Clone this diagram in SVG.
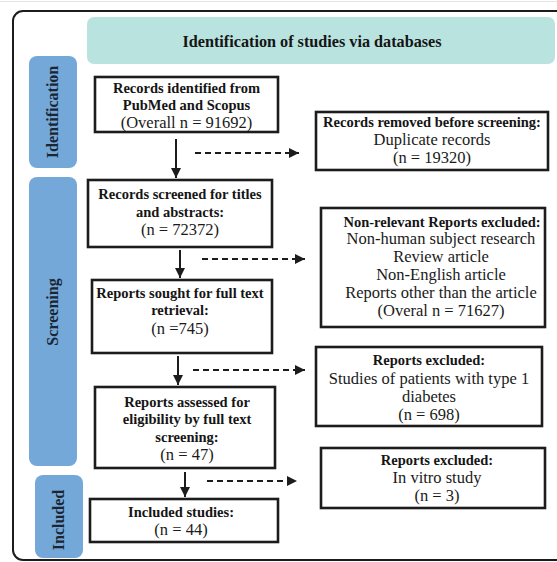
<svg xmlns="http://www.w3.org/2000/svg" width="557" height="562" viewBox="0 0 557 562">
<defs>
<style>
.box{fill:#fff;stroke:#1c1c1c;stroke-width:2.6}
.side{fill:#74a8d8}
.b{font-weight:bold;font-size:14.5px;fill:#151515;text-anchor:middle}
.h{font-weight:bold;font-size:16.2px;fill:#151515;text-anchor:middle}
.r{font-size:16.5px;fill:#1a1a1a;text-anchor:middle}
.sl{font-weight:bold;font-size:16px;fill:#1b2633;text-anchor:middle}
.solid{stroke:#1c1c1c;stroke-width:2;fill:none}
.dash{stroke:#1c1c1c;stroke-width:2;fill:none;stroke-dasharray:6 4}
</style>
<marker id="ah" viewBox="0 0 10 10" refX="10" refY="5" markerWidth="5" markerHeight="5" orient="auto" markerUnits="strokeWidth">
<path d="M0,0 L10,5 L0,10 z" fill="#1c1c1c"/>
</marker>
</defs>
<rect width="557" height="562" fill="#fff"/>
<line x1="0" y1="1.5" x2="557" y2="1.5" stroke="#e4e4e4" stroke-width="1"/>
<rect x="13" y="11" width="570" height="549" rx="10" fill="none" stroke="#1c1c1c" stroke-width="2"/>
<g font-family="Liberation Serif, Times New Roman, serif">
<g id="header">
<rect x="87" y="17" width="468" height="47" rx="7" fill="#b9e3df"/>
<text class="h" x="312" y="47">Identification of studies via databases</text>
</g>

<g id="side-identification">
<rect class="side" x="29" y="56" width="48" height="112" rx="8"/>
<text class="sl" transform="translate(58,112) rotate(-90)">Identification</text>
</g>
<g id="side-screening">
<rect class="side" x="29" y="177" width="48" height="289" rx="8"/>
<text class="sl" transform="translate(58,312) rotate(-90)">Screening</text>
</g>
<g id="side-included">
<rect class="side" x="35" y="475" width="48" height="83" rx="8"/>
<text class="sl" transform="translate(64,520) rotate(-90)">Included</text>
</g>

<g id="records-identified">
<rect class="box" x="95" y="77" width="183" height="55"/>
<text class="b" x="186.5" y="93">Records identified from</text>
<text class="b" x="186.5" y="110">PubMed and Scopus</text>
<text class="r" x="186.5" y="128">(Overall n = 91692)</text>
</g>

<g id="records-removed">
<rect class="box" x="316" y="112" width="232" height="58"/>
<text class="b" x="432" y="127">Records removed before screening:</text>
<text class="r" x="432" y="145">Duplicate records</text>
<text class="r" x="432" y="163">(n = 19320)</text>
</g>

<g id="records-screened">
<rect class="box" x="88" y="180" width="184" height="67"/>
<text class="b" x="180" y="199">Records screened for titles</text>
<text class="b" x="180" y="217">and abstracts:</text>
<text class="r" x="180" y="235">(n = 72372)</text>
</g>

<g id="non-relevant">
<rect class="box" x="321" y="208" width="224" height="119"/>
<text class="b" x="442" y="227">Non-relevant Reports excluded:</text>
<text class="r" x="441" y="244">Non-human subject research</text>
<text class="r" x="441" y="262">Review article</text>
<text class="r" x="441" y="280">Non-English article</text>
<text class="r" x="441" y="298">Reports other than the article</text>
<text class="r" x="441" y="316">(Overal n = 71627)</text>
</g>

<g id="reports-sought">
<rect class="box" x="92" y="280" width="180" height="73"/>
<text class="b" x="180" y="298">Reports sought for full text</text>
<text class="b" x="180" y="315">retrieval:</text>
<text class="r" x="180" y="334">(n =745)</text>
</g>

<g id="reports-excluded-t1">
<rect class="box" x="316" y="347" width="226" height="79"/>
<text class="b" x="429" y="365">Reports excluded:</text>
<text class="r" x="429" y="384">Studies of patients with type 1</text>
<text class="r" x="429" y="402">diabetes</text>
<text class="r" x="429" y="420">(n = 698)</text>
</g>

<g id="reports-assessed">
<rect class="box" x="95" y="387" width="180" height="81"/>
<text class="b" x="187" y="407">Reports assessed for</text>
<text class="b" x="187" y="424">eligibility by full text</text>
<text class="b" x="187" y="442">screening:</text>
<text class="r" x="187" y="460">(n = 47)</text>
</g>

<g id="reports-excluded-vitro">
<rect class="box" x="321" y="448" width="224" height="60"/>
<text class="b" x="437" y="465">Reports excluded:</text>
<text class="r" x="437" y="483">In vitro study</text>
<text class="r" x="437" y="501">(n = 3)</text>
</g>

<g id="included-studies">
<rect class="box" x="90" y="499" width="188" height="43"/>
<text class="b" x="181" y="517">Included studies:</text>
<text class="r" x="181" y="535">(n = 44)</text>
</g>
</g>
<g id="connectors">
<line class="solid" x1="176" y1="139" x2="176" y2="178" marker-end="url(#ah)"/>
<line class="dash" x1="195" y1="153" x2="299" y2="153" marker-end="url(#ah)"/>
<line class="solid" x1="180" y1="250" x2="180" y2="278" marker-end="url(#ah)"/>
<line class="dash" x1="202" y1="259" x2="305" y2="259" marker-end="url(#ah)"/>
<line class="solid" x1="178" y1="356" x2="178" y2="385" marker-end="url(#ah)"/>
<line class="dash" x1="193" y1="370" x2="305" y2="370" marker-end="url(#ah)"/>
<line class="solid" x1="185" y1="472" x2="185" y2="497" marker-end="url(#ah)"/>
<line class="dash" x1="207" y1="481" x2="297" y2="481" marker-end="url(#ah)"/>
</g>
</svg>
